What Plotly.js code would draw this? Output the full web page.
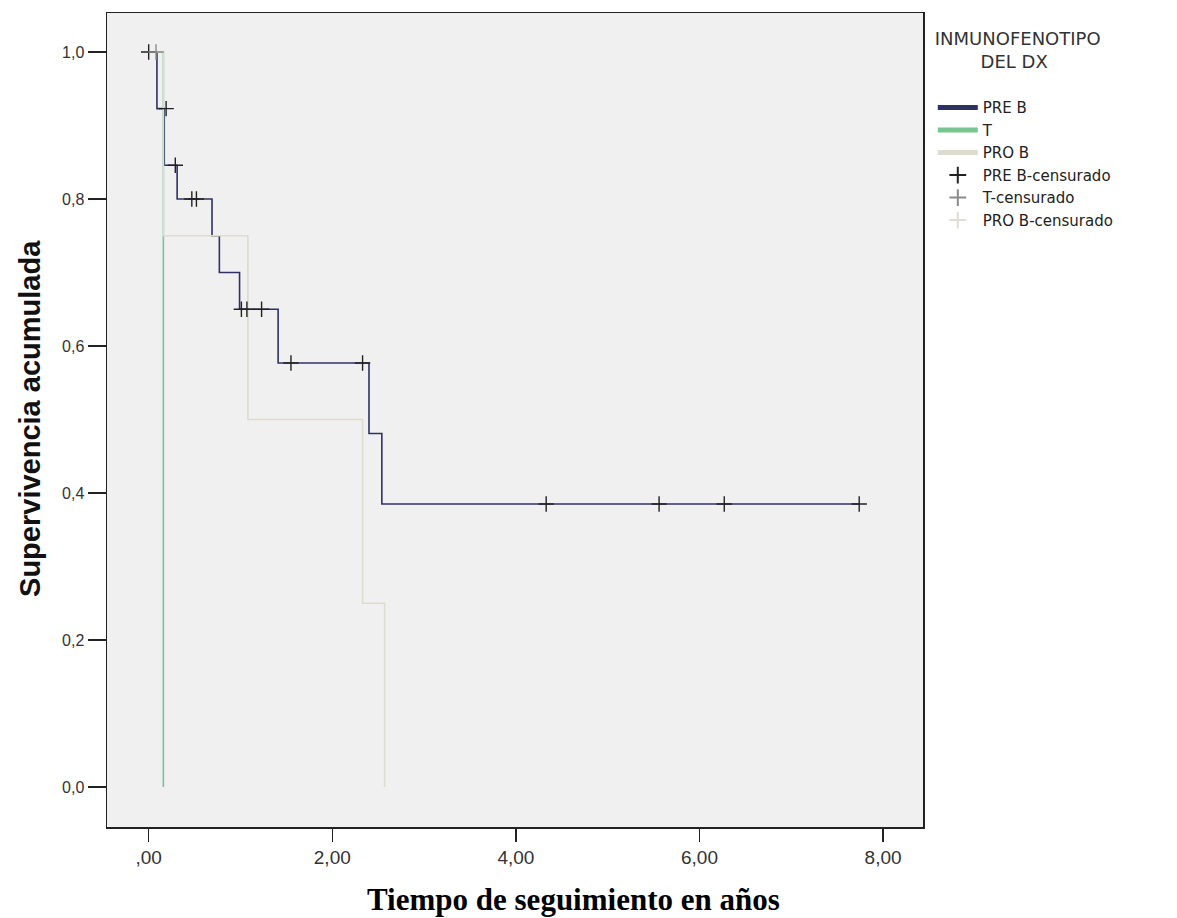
<!DOCTYPE html>
<html><head><meta charset="utf-8">
<script src="https://cdn.plot.ly/plotly-3.0.1.min.js"></script>
<style>html,body{margin:0;padding:0;background:#fff}</style>
</head><body>
<div id="chart" style="width:1177px;height:918px"></div>
<script>
// Kaplan-Meier step data (time in years, cumulative survival)
const preB_t = [0, 0.09, 0.17, 0.31, 0.69, 0.77, 0.99, 1.41, 2.40, 2.54, 7.74];
const preB_s = [1.0, 0.923, 0.846, 0.80, 0.75, 0.70, 0.65, 0.577, 0.481, 0.385, 0.385];
const t_t = [0, 0.16];
const t_s = [1.0, 0.0];
const proB_t = [0, 0.16, 1.08, 2.33, 2.57];
const proB_s = [1.0, 0.75, 0.50, 0.25, 0.0];
// censored observations
const preBCens_t = [0.0, 0.19, 0.29, 0.47, 0.52, 1.01, 1.07, 1.23, 1.55, 2.33, 4.33, 5.56, 6.27, 7.74];
const preBCens_s = [1.0, 0.923, 0.846, 0.80, 0.80, 0.65, 0.65, 0.65, 0.577, 0.577, 0.385, 0.385, 0.385, 0.385];
const tCens_t = [0.08];
const tCens_s = [1.0];
const proBCens_t = [null];
const proBCens_s = [null];
// axis ticks
const xTickVals = [0, 2, 4, 6, 8];
const xTickText = [',00', '2,00', '4,00', '6,00', '8,00'];
const yTickVals = [0, 0.2, 0.4, 0.6, 0.8, 1.0];
const yTickText = ['0,0', '0,2', '0,4', '0,6', '0,8', '1,0'];

const NB = '\u00a0';
const traces = [
  {name: 'PRE B', x: preB_t, y: preB_s, mode: 'lines', line: {shape: 'hv', color: '#303068', width: 1.6}},
  {name: 'T', x: t_t, y: t_s, mode: 'lines', line: {shape: 'hv', color: '#78c592', width: 1.6}},
  {name: 'PRO B', x: proB_t, y: proB_s, mode: 'lines', line: {shape: 'hv', color: '#dedccf', width: 1.6}},
  {name: 'PRE B-censurado', x: preBCens_t, y: preBCens_s, mode: 'markers',
   marker: {symbol: 'cross-thin-open', size: 11, color: '#222', line: {color: '#222', width: 1.4}}},
  {name: 'T-censurado', x: tCens_t, y: tCens_s, mode: 'markers',
   marker: {symbol: 'cross-thin-open', size: 11, color: '#8a8a8a', line: {color: '#8a8a8a', width: 1.4}}},
  {name: 'PRO B-censurado', x: proBCens_t, y: proBCens_s, mode: 'markers',
   marker: {symbol: 'cross-thin-open', size: 11, color: '#e0ded2', line: {color: '#e0ded2', width: 1.4}}}
];

const layout = {
  width: 1177, height: 918,
  margin: {l: 107, r: 254, t: 13, b: 91},
  paper_bgcolor: '#ffffff',
  plot_bgcolor: '#f0f0f0',
  font: {family: 'Liberation Sans, Arial, sans-serif', color: '#222'},
  showlegend: true,
  xaxis: {
    range: [-0.454, 8.435], tickvals: xTickVals, ticktext: xTickText,
    ticks: 'outside', ticklen: 13, tickwidth: 1.5, tickcolor: '#222',
    showline: true, mirror: true, linecolor: '#222', linewidth: 1.5,
    showgrid: false, zeroline: false,
    tickfont: {size: 19, color: '#333'}
  },
  yaxis: {
    range: [-0.0544, 1.0531], tickvals: yTickVals, ticktext: yTickText,
    ticks: 'outside', ticklen: 18, tickwidth: 1.5, tickcolor: '#222',
    showline: true, mirror: true, linecolor: '#222', linewidth: 1.5,
    showgrid: false, zeroline: false,
    tickfont: {size: 16, color: '#333'}
  },
  legend: {
    x: 1.012, y: 0.99, xanchor: 'left', yanchor: 'top',
    bgcolor: 'rgba(0,0,0,0)', borderwidth: 0,
    itemwidth: 40, itemsizing: 'constant',
    font: {family: 'DejaVu Sans, sans-serif', size: 15, color: '#222'},
    title: {text: 'INMUNOFENOTIPO<br>' + NB.repeat(8) + 'DEL DX<br>' + NB, side: 'top',
            font: {family: 'DejaVu Sans, sans-serif', size: 18, color: '#333'}}
  },
  annotations: [
    {text: '<b>Tiempo de seguimiento en años</b>', xref: 'paper', yref: 'paper',
     x: 0.572, y: -0.0885, xanchor: 'center', yanchor: 'middle', showarrow: false,
     font: {family: 'Liberation Serif, Times New Roman, serif', size: 31, color: '#000'}},
    {text: '<b>Supervivencia acumulada</b>', xref: 'paper', yref: 'paper',
     x: -0.0944, y: 0.5025, xanchor: 'center', yanchor: 'middle', textangle: -90, showarrow: false,
     font: {family: 'Liberation Sans, Arial, sans-serif', size: 29, color: '#111'}}
  ]
};

Plotly.newPlot('chart', traces, layout, {displayModeBar: false, staticPlot: true});
</script>
</body></html>
